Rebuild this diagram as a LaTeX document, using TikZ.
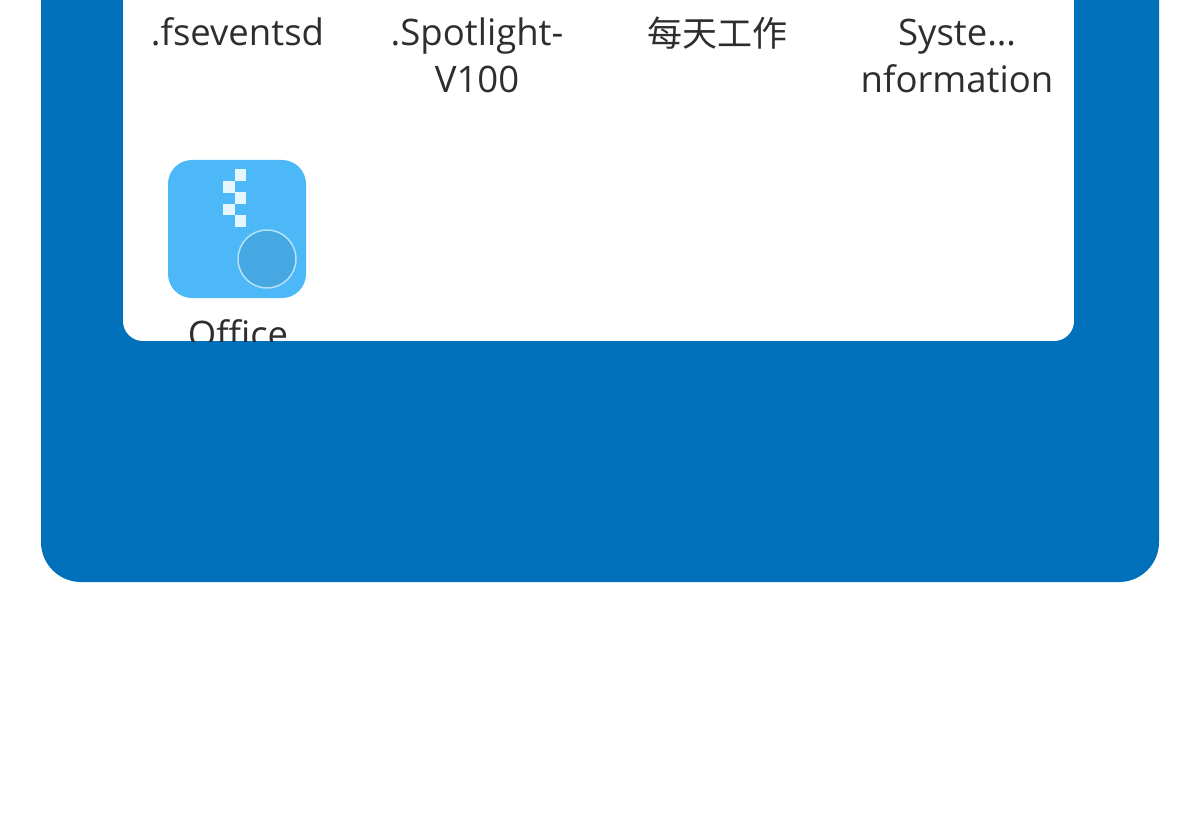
\documentclass[tikz,border=0pt]{standalone}
\usepackage{fontspec}
\setmainfont[Ligatures=NoCommon]{Open Sans}
\newfontfamily\cjk{Noto Sans CJK SC}
\definecolor{panelblue}{HTML}{0070BA}
\definecolor{iconblue}{HTML}{4DB8F7}
\definecolor{circblue}{HTML}{45A8E2}
\definecolor{ringc}{HTML}{B5E2F8}
\definecolor{pixc}{HTML}{E6F6FE}
\definecolor{txt}{HTML}{2E2E2E}
\tikzset{
 lbl/.style={text=txt,font=\fontsize{36.5}{46}\selectfont,align=center,anchor=base,inner sep=0pt},
 pix/.style={fill=pixc,draw=none,minimum size=11.5pt,inner sep=0pt,rectangle}
}
\begin{document}
\begin{tikzpicture}[x=1pt,y=-1pt]
\useasboundingbox (0,0) rectangle (1200,840);
\clip (0,0) rectangle (1200,840);
\fill[white] (0,0) rectangle (1200,840);
\fill[panelblue,rounded corners=40pt] (41,-100) rectangle (1159,582);
\begin{scope}
\clip[rounded corners=20pt] (123,-100) rectangle (1074,341);
\fill[white] (123,-100) rectangle (1074,341);
\node[lbl] (t1) at (237.5,46) {.fseventsd};
\node[lbl] (t2a) at (477,46) {.Spotlight-};
\node[lbl] (t2b) at (477,93) {V100};
\node[lbl,font=\fontsize{35}{40}\selectfont\cjk] (t3) at (717,47) {每天工作};
\node[lbl] (t4a) at (957,46) {Syste…};
\node[lbl] (t4b) at (957,93) {nformation};
\fill[iconblue,rounded corners=24pt] (168,160) rectangle (306,298);
\node[pix] (p1) at (240.7,175) {};
\node[pix] (p2) at (229,187) {};
\node[pix] (p3) at (240.7,198) {};
\node[pix] (p4) at (229,209.5) {};
\node[pix] (p5) at (240.7,221) {};
\node[circle,fill=circblue,draw=ringc,line width=1.5pt,minimum size=58pt,inner sep=0pt] (c) at (267,259) {};
\node[lbl] (t5) at (238,347) {Office};
\end{scope}
\end{tikzpicture}
\end{document}
